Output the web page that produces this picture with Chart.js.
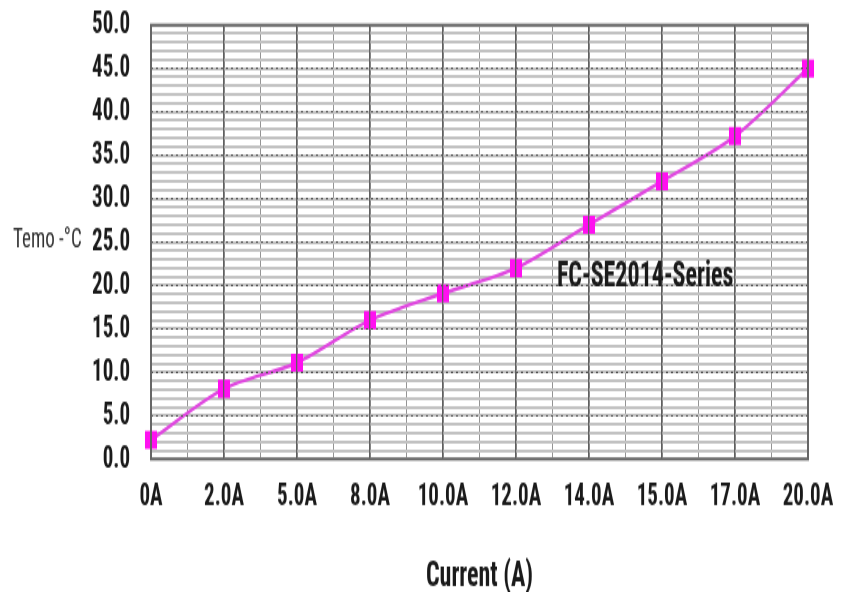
<!DOCTYPE html>
<html>
<head>
<meta charset="utf-8">
<script src="https://cdn.jsdelivr.net/npm/chart.js@4/dist/chart.umd.min.js"></script>
<style>
html,body{margin:0;padding:0;background:#fff;}
#outer{width:850px;height:592px;position:relative;}
#wrap{position:absolute;left:0;top:0;width:850px;height:395px;transform:scaleY(1.4987);transform-origin:0 0;}
</style>
</head>
<body>
<div id="outer"><div id="wrap"><canvas id="c" width="850" height="395"></canvas></div></div>
<script>
const categories = ["0A","2.0A","5.0A","8.0A","10.0A","12.0A","14.0A","15.0A","17.0A","20.0A"];
const tempValues = [2.2, 8.1, 11.1, 16.0, 19.1, 22.0, 27.0, 32.0, 37.2, 45.0];
const seriesName = "FC-SE2014-Series";
const yAxisLabel = "Temo -\u00B0C";
const xAxisLabel = "Current (A)";
const yMin = 0, yMax = 50, yMajorStep = 5, yMinorStep = 1;

const FONT = '"Roboto Condensed", "DejaVu Sans Condensed", sans-serif';

const textPlugin = {
  id: 'extraText',
  afterDraw(chart) {
    const ctx = chart.ctx;
    const x = chart.scales.x, y = chart.scales.y;
    const a = chart.chartArea;
    ctx.save();
    ctx.strokeStyle = '#666';
    ctx.lineWidth = 2;
    ctx.strokeRect(a.left, a.top, a.right - a.left, a.bottom - a.top);
    ctx.font = 'bold 24px ' + FONT;
    ctx.fillStyle = '#1a1a1a';
    ctx.textAlign = 'left';
    ctx.textBaseline = 'middle';
    ctx.fillText(seriesName, x.getPixelForValue(5.56), y.getPixelForValue(21.0));
    ctx.font = '19px ' + FONT;
    ctx.fillStyle = '#333';
    ctx.fillText(yAxisLabel, 13, y.getPixelForValue(25.2));
    ctx.restore();
  }
};

new Chart(document.getElementById('c'), {
  type: 'line',
  data: {
    labels: categories,
    datasets: [{
      label: seriesName,
      data: tempValues,
      borderColor: '#e048e0',
      borderWidth: 2.5,
      pointStyle: 'rect',
      pointRadius: 8.5,
      pointBorderWidth: 0,
      pointBackgroundColor: '#ff10f0',
      tension: 0.3,
      xAxisID: 'x',
      yAxisID: 'y'
    }]
  },
  options: {
    responsive: false,
    animation: false,
    devicePixelRatio: 1,
    layout: { padding: { left: 71, top: 16.7, right: 42, bottom: 0 } },
    plugins: { legend: { display: false }, tooltip: { enabled: false } },
    scales: {
      x: {
        type: 'category',
        offset: false,
        afterFit(s) { s.height = 88.7; s.paddingLeft = 0; s.paddingRight = 0; },
        grid: { color: '#606060', lineWidth: 1.3, drawTicks: false, z: 1 },
        border: { display: false },
        ticks: { font: { family: FONT, size: 21, weight: 'bold' }, color: '#1a1a1a', padding: 13, autoSkip: false, maxRotation: 0 },
        title: { display: true, text: xAxisLabel, font: { family: FONT, size: 24, weight: 'bold', lineHeight: 1.0 }, color: '#1a1a1a', padding: { top: 0, bottom: -2 } }
      },
      x2: {
        type: 'linear',
        position: 'top',
        min: 0, max: categories.length - 1,
        afterFit(s) { s.height = 0; s.paddingLeft = 0; s.paddingRight = 0; },
        grid: { color: '#949494', lineWidth: 1, drawTicks: false },
        border: { display: false },
        ticks: { display: false, stepSize: 0.5 }
      },
      y: {
        type: 'linear',
        min: yMin, max: yMax,
        afterFit(s) { s.width = 80; s.paddingTop = 0; s.paddingBottom = 0; },
        grid: { color: '#555', lineWidth: 1, drawTicks: false, z: 1 },
        border: { display: false, dash: [2, 3] },
        ticks: { stepSize: yMajorStep, autoSkip: false, font: { family: FONT, size: 21, weight: 'bold' }, color: '#1a1a1a', padding: 21,
          callback: v => v.toFixed(1) }
      },
      y2: {
        type: 'linear',
        position: 'right',
        min: yMin, max: yMax,
        afterFit(s) { s.width = 0; s.paddingTop = 0; s.paddingBottom = 0; },
        grid: { color: '#c2c2c2', lineWidth: 2, drawTicks: false },
        border: { display: false },
        ticks: { display: false, stepSize: yMinorStep, autoSkip: false }
      }
    }
  },
  plugins: [textPlugin]
});
</script>
</body>
</html>
